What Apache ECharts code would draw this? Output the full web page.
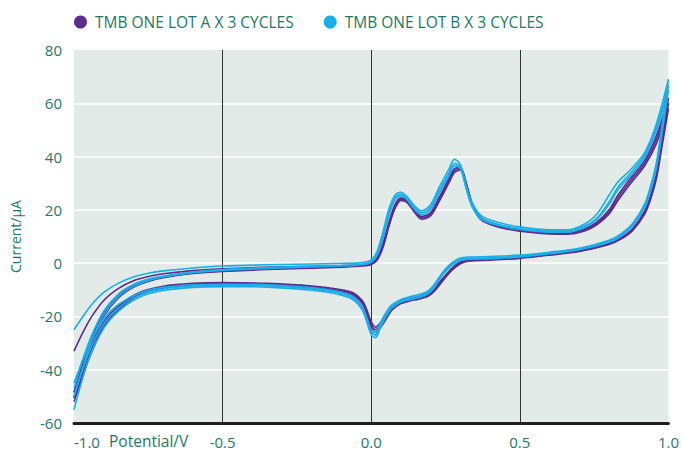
<!DOCTYPE html>
<html>
<head>
<meta charset="utf-8">
<script src="https://cdn.jsdelivr.net/npm/echarts@6/dist/echarts.min.js"></script>
<style>
  html, body { margin: 0; padding: 0; background: #fff; }
  #cv-chart { width: 682px; height: 452px; }
</style>
</head>
<body>
<div id="cv-chart"></div>
<script>
// potential (V) for the forward and the return sweep
const sweepUp = [-1.0, -0.97, -0.94, -0.9, -0.85, -0.8, -0.75, -0.7, -0.6, -0.5, -0.3, -0.1, -0.03, 0.0, 0.02, 0.04, 0.06, 0.08, 0.1, 0.12, 0.15, 0.17, 0.2, 0.23, 0.26, 0.28, 0.3, 0.32, 0.34, 0.37, 0.42, 0.5, 0.6, 0.66, 0.72, 0.76, 0.8, 0.83, 0.87, 0.92, 0.96, 1.0];
const sweepDown = [0.98, 0.96, 0.94, 0.92, 0.88, 0.84, 0.8, 0.7, 0.6, 0.5, 0.4, 0.33, 0.3, 0.27, 0.24, 0.21, 0.19, 0.16, 0.13, 0.1, 0.07, 0.05, 0.03, 0.015, 0.0, -0.015, -0.03, -0.06, -0.1, -0.2, -0.35, -0.5, -0.6, -0.7, -0.78, -0.85, -0.9, -0.95, -1.0];

// current (uA), lot A
const lotA1Up = [-33, -26, -20, -14, -9.5, -6.6, -5, -4, -2.8, -2.1, -1.4, -0.9, -0.6, 0, 2, 7.5, 15.5, 22, 24.5, 23.6, 19.5, 17.5, 19, 25, 31.5, 35.5, 36, 30, 22.5, 17, 14.5, 12.6, 11.6, 11.5, 13, 15.5, 20, 25.5, 31.5, 38.5, 48, 62];
const lotA1Down = [48, 34, 25.5, 19.5, 13, 9.5, 7.4, 4.8, 3.4, 2.2, 1.5, 1.2, 0.4, -2, -5.8, -9.8, -11.5, -12.5, -13.2, -14.2, -16.4, -19.5, -22.5, -24, -22, -17.5, -14, -11.2, -10, -8.6, -7.6, -7.3, -7.6, -8.7, -11, -16, -22, -33, -48.5];
const lotA2Up = [-48.5, -37.5, -28, -19, -12.3, -8.6, -6.5, -5.2, -3.7, -2.9, -2.0, -1.3, -0.9, -0.3, 1.5, 6.5, 14.5, 21, 24, 23.2, 19, 17, 18.4, 24.2, 30.5, 34.8, 35.5, 29.5, 22, 16.6, 14.1, 12.3, 11.3, 11.2, 12.6, 15, 19.2, 24.5, 30.5, 37.5, 46.5, 60];
const lotA2Down = [46.5, 33, 24.8, 19, 12.7, 9.3, 7.2, 4.6, 3.2, 2.0, 1.3, 1.0, 0.1, -2.4, -6.3, -10.3, -12, -13, -13.7, -14.7, -17, -20.2, -23.4, -25, -23, -18.3, -14.6, -11.7, -10.4, -8.9, -7.9, -7.6, -7.9, -9, -11.5, -16.8, -23, -34.5, -50.5];
const lotA3Up = [-50.5, -39.5, -29.5, -20, -13, -9.1, -6.9, -5.5, -3.9, -3.1, -2.2, -1.5, -1.1, -0.5, 1.2, 6, 14, 20.5, 23.5, 22.8, 18.5, 16.5, 17.8, 23.5, 29.8, 34, 35, 29, 21.6, 16.2, 13.8, 12, 11, 10.9, 12.2, 14.5, 18.5, 23.5, 29.5, 36.5, 45, 58];
const lotA3Down = [45, 32, 24, 18.4, 12.3, 9, 7, 4.4, 3, 1.8, 1.1, 0.8, -0.2, -2.8, -6.8, -10.8, -12.5, -13.5, -14.2, -15.2, -17.6, -21, -24.4, -26, -24, -19, -15.2, -12.2, -10.8, -9.2, -8.2, -7.9, -8.2, -9.4, -12, -17.5, -24, -36, -52];

// current (uA), lot B
const lotB1Up = [-25, -20, -15.5, -11, -7.5, -5.2, -3.8, -2.9, -1.8, -1.1, -0.5, -0.1, 0.2, 1.2, 4.5, 12, 20.5, 25.5, 26.6, 25, 21, 19.6, 22, 28.8, 35, 39, 37, 29, 22.5, 17.8, 15.5, 13.6, 12.5, 12.5, 14.8, 18.5, 25.5, 30.5, 34.8, 41.5, 52.5, 69];
const lotB1Down = [53, 38, 29, 22.3, 15, 11, 8.6, 5.6, 4.1, 3, 2.5, 2.3, 1.9, 0, -3.5, -8.3, -10.5, -11.8, -12.6, -13.6, -15.6, -18.5, -22.5, -26, -25, -20.5, -16.3, -12.6, -10.9, -9.2, -8.1, -7.9, -8.1, -9.1, -11.2, -15.5, -21, -31, -45];
const lotB2Up = [-47, -36, -27, -18, -11.5, -8, -6, -4.8, -3.3, -2.4, -1.5, -0.9, -0.4, 0.6, 3.5, 10.5, 19, 24.5, 25.8, 24.3, 20.3, 18.9, 21, 27.5, 33.5, 37.5, 36, 28, 21.5, 17, 14.8, 13, 12, 12, 14, 17, 23, 28.5, 33.5, 40.5, 51, 67];
const lotB2Down = [51.5, 37, 28, 21.5, 14.5, 10.5, 8.2, 5.3, 3.8, 2.6, 2.0, 1.9, 1.4, -0.5, -4, -8.9, -11, -12.3, -13.1, -14.1, -16.2, -19.2, -23.5, -27, -25.8, -21.2, -17, -13.2, -11.4, -9.7, -8.5, -8.3, -8.6, -9.7, -12, -16.8, -22.8, -33.5, -50];
const lotB3Up = [-50, -39, -29, -19.5, -12.5, -8.8, -6.6, -5.2, -3.6, -2.7, -1.8, -1.1, -0.6, 0.3, 3, 9.5, 18, 23.8, 25.3, 23.8, 19.6, 18.2, 20.2, 26.5, 32.5, 36.6, 35.5, 27.8, 21, 16.5, 14.3, 12.6, 11.6, 11.6, 13.5, 16.5, 22, 27.5, 32.5, 39.5, 50, 65];
const lotB3Down = [50, 36, 27, 20.8, 14, 10.1, 7.8, 5, 3.5, 2.3, 1.6, 1.5, 1.0, -0.9, -4.5, -9.5, -11.6, -12.9, -13.7, -14.6, -16.8, -20, -24.5, -28, -26.8, -22, -17.6, -13.8, -12, -10.2, -9, -8.8, -9.1, -10.3, -12.8, -18, -24.5, -36, -55];

const xTicks = ['-1.0', '-0.5', '0.0', '0.5', '1.0'];
const lotNames = ['TMB ONE LOT A X 3 CYCLES', 'TMB ONE LOT B X 3 CYCLES'];

const lotColors = ['#5b2c8f', '#1aaee8'];
const textColor = '#1c7a66';
const font = '"Open Sans", Lato, sans-serif';

function cycle(up, down) {
    const pts = sweepUp.map((v, k) => [v, up[k]]);
    return pts.concat(sweepDown.map((v, k) => [v, down[k]]));
}

const cycles = [
    [0, lotA1Up, lotA1Down], [0, lotA2Up, lotA2Down], [0, lotA3Up, lotA3Down],
    [1, lotB1Up, lotB1Down], [1, lotB2Up, lotB2Down], [1, lotB3Up, lotB3Down]
];

const series = cycles.map(c => ({
    name: lotNames[c[0]],
    type: 'line',
    data: cycle(c[1], c[2]),
    smooth: 0.3,
    showSymbol: false,
    lineStyle: { color: lotColors[c[0]], width: 1.6 },
    itemStyle: { color: lotColors[c[0]] }
}));

let option = {
    animation: false,
    legend: {
        data: lotNames,
        left: 69,
        top: 9,
        icon: 'circle',
        itemWidth: 13,
        itemHeight: 13,
        itemGap: 30,
        textStyle: { color: textColor, fontSize: 15.5, fontFamily: font, padding: [0, 0, 0, 3] }
    },
    grid: {
        left: 72, right: 10, top: 50, bottom: 29,
        show: true,
        backgroundColor: '#e2ebe7',
        borderWidth: 0
    },
    xAxis: {
        type: 'value',
        min: -1, max: 1, interval: 0.5,
        axisLine: { show: true, onZero: false, lineStyle: { color: '#231f20', width: 3 } },
        axisTick: { show: false },
        axisLabel: {
            color: textColor, fontSize: 15, fontFamily: font, margin: 11,
            alignMinLabel: 'left',
            formatter: (v) => xTicks[Math.round((v + 1) / 0.5)]
        },
        splitLine: { show: true, showMinLine: false, showMaxLine: false, lineStyle: { color: '#333333', width: 1 } }
    },
    yAxis: {
        type: 'value',
        min: -60, max: 80, interval: 20,
        name: 'Current/µA',
        nameLocation: 'middle',
        nameRotate: 90,
        nameGap: 52,
        nameTextStyle: { color: textColor, fontSize: 14, fontFamily: font },
        axisLine: { show: false },
        axisTick: { show: false },
        axisLabel: { color: textColor, fontSize: 15, fontFamily: font, margin: 12 },
        splitLine: { show: true, showMinLine: false, showMaxLine: false, lineStyle: { color: '#ffffff', width: 1.5 } }
    },
    graphic: [{
        type: 'text',
        left: 109,
        top: 433,
        style: { text: 'Potential/V', fill: textColor, fontSize: 15.5, fontFamily: font }
    }],
    series: series
};

let myChart = echarts.init(document.getElementById('cv-chart'), null, { renderer: 'svg' });
myChart.setOption(option);
</script>
</body>
</html>
